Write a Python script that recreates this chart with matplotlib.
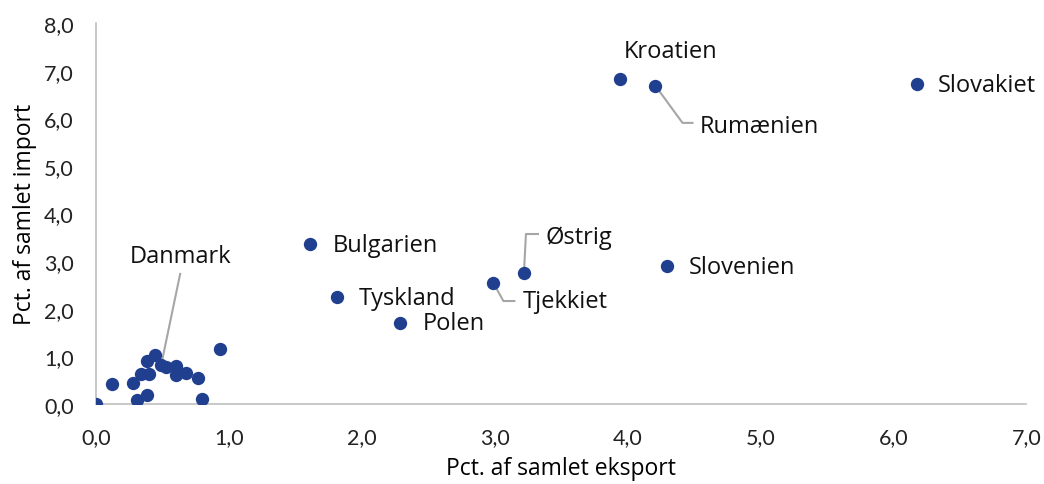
import matplotlib
matplotlib.use('Agg')
import matplotlib.pyplot as plt
from matplotlib.ticker import FuncFormatter, MultipleLocator
from matplotlib.transforms import IdentityTransform

# share of total export (x) and total import (y), pct.
labelled = ['Slovakiet', 'Kroatien', 'Rumænien', 'Bulgarien', 'Tyskland',
            'Polen', 'Tjekkiet', 'Østrig', 'Slovenien', 'Danmark']
lab_x = [6.18, 3.94, 4.21, 1.61, 1.81, 2.29, 2.99, 3.22, 4.30, 0.49]
lab_y = [6.72, 6.83, 6.68, 3.36, 2.25, 1.70, 2.54, 2.75, 2.90, 0.82]

# unlabelled countries in the cluster near origin
other_x = [0.00, 0.12, 0.28, 0.31, 0.38, 0.34, 0.40, 0.38, 0.44, 0.53,
           0.60, 0.60, 0.68, 0.77, 0.80, 0.93]
other_y = [0.00, 0.42, 0.44, 0.09, 0.19, 0.63, 0.63, 0.91, 1.03, 0.78,
           0.80, 0.61, 0.65, 0.54, 0.10, 1.15]

# label offsets in pixels (dx, dy, ha), and leader lines in pixel offsets
label_pos = {
    'Slovakiet': (21, -1, 'left'),
    'Kroatien': (51, 28, 'center'),
    'Rumænien': (44, -40, 'left'),
    'Bulgarien': (23, -1, 'left'),
    'Tyskland': (22, -1, 'left'),
    'Polen': (22, 0, 'left'),
    'Tjekkiet': (29, -18, 'left'),
    'Østrig': (22, 36, 'left'),
    'Slovenien': (21, -1, 'left'),
    'Danmark': (19, 109, 'center'),
}
leaders = {
    'Rumænien': [(0, 0), (27, -37), (37, -37)],
    'Østrig': [(0, 0), (2, 39), (14, 39)],
    'Tjekkiet': [(0, 0), (10, -18), (21, -18)],
    'Danmark': [(0, 0), (19, 91)],
}

plt.rcParams['font.family'] = ['Open Sans', 'DejaVu Sans']
blue = '#213f8f'
grey = '#bfbfbf'

fig = plt.figure(figsize=(10.44, 4.85), dpi=100)
ax = fig.add_axes([0.092, 0.165, 0.891, 0.7855])

ax.scatter(other_x, other_y, s=92, color=blue, zorder=3, linewidths=0)
ax.scatter(lab_x, lab_y, s=92, color=blue, zorder=3, linewidths=0)

ax.set_xlim(0, 7)
ax.set_ylim(0, 8)
ax.xaxis.set_major_locator(MultipleLocator(1))
ax.yaxis.set_major_locator(MultipleLocator(1))
fmt = FuncFormatter(lambda v, p: ('%.1f' % v).replace('.', ','))
ax.xaxis.set_major_formatter(fmt)
ax.yaxis.set_major_formatter(fmt)
ax.tick_params(length=0, labelsize=15.5, colors='#222222')
ax.tick_params(axis='x', pad=17)
ax.tick_params(axis='y', pad=16)
for t in ax.get_xticklabels() + ax.get_yticklabels():
    t.set_family(['Lato', 'DejaVu Sans'])

for s in ['top', 'right']:
    ax.spines[s].set_visible(False)
for s in ['left', 'bottom']:
    ax.spines[s].set_color(grey)
    ax.spines[s].set_linewidth(1.2)
    ax.spines[s].set_zorder(1)

ax.set_xlabel('Pct. af samlet eksport', fontsize=16.5, labelpad=6)
ax.set_ylabel('Pct. af samlet import', fontsize=16.5, labelpad=5)

for name, x, y in zip(labelled, lab_x, lab_y):
    dx, dy, ha = label_pos[name]
    ax.annotate(name, (x, y), xytext=(dx * 0.72, dy * 0.72),
                textcoords='offset points', ha=ha, va='center',
                fontsize=17, color='#111111')
    if name in leaders:
        px, py = ax.transData.transform((x, y))
        xs = [px + o[0] for o in leaders[name]]
        ys = [py + o[1] for o in leaders[name]]
        ax.plot(xs, ys, color='#a6a6a6', lw=1.5, transform=IdentityTransform(),
                zorder=2, clip_on=False)

fig.savefig('out.png', dpi=100)
